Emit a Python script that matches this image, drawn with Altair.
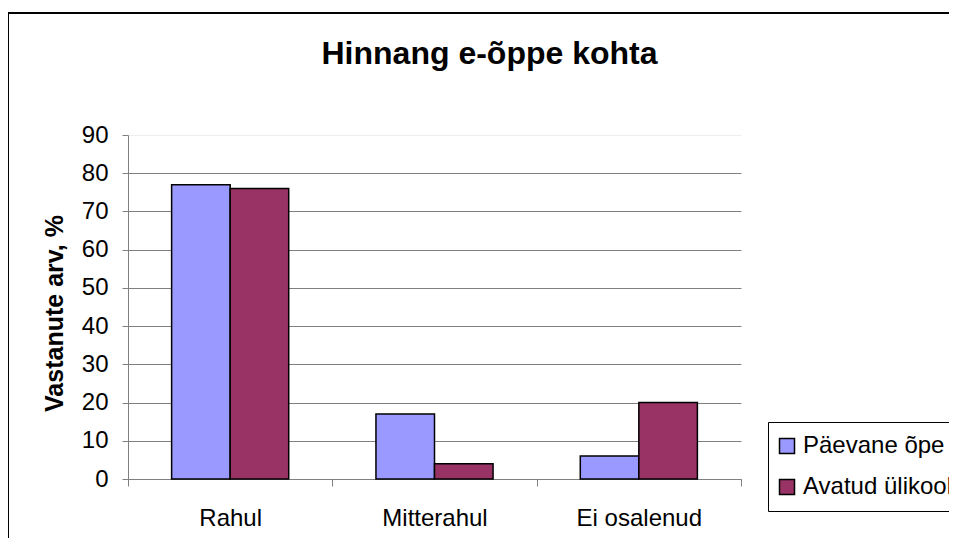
import altair as alt
import pandas as pd

categories = ["Rahul", "Mitterahul", "Ei osalenud"]
series_names = ["Päevane õpe", "Avatud ülikool"]
paevane = [77, 17, 6]
avatud = [76, 4, 20]
y_ticks = [0, 10, 20, 30, 40, 50, 60, 70, 80, 90]
colors = ["#9999FF", "#993366"]

rows = []
for i, c in enumerate(categories):
    rows.append({"kategooria": c, "seeria": series_names[0], "vaartus": paevane[i]})
    rows.append({"kategooria": c, "seeria": series_names[1], "vaartus": avatud[i]})
df = pd.DataFrame(rows)

FONT = "Liberation Sans"

bars = alt.Chart(df).mark_bar(stroke="black", strokeWidth=1.5).encode(
    x=alt.X("kategooria:N", sort=categories,
            scale=alt.Scale(paddingInner=0, paddingOuter=0),
            axis=alt.Axis(title=None, tickBand="extent", labelAngle=0,
                          labelFontSize=24, labelFont=FONT, labelColor="black",
                          labelPadding=20, tickSize=7, tickColor="#808080",
                          domainColor="#808080", grid=False)),
    xOffset=alt.XOffset("seeria:N", sort=series_names,
                        scale=alt.Scale(paddingInner=0, paddingOuter=0.745)),
    y=alt.Y("vaartus:Q",
            scale=alt.Scale(domain=[0, 90], nice=False),
            axis=alt.Axis(title="Vastanute arv, %", values=y_ticks,
                          labelFontSize=24, labelFont=FONT, labelColor="black",
                          labelPadding=14, tickSize=6, tickColor="#808080",
                          domainColor="#808080",
                          grid=True,
                          gridColor={"condition": {"test": "datum.value == 90", "value": "#eeeeee"},
                                     "value": "#808080"},
                          gridWidth=1,
                          titleFont=FONT, titleFontSize=25, titleFontWeight="bold",
                          titleColor="black", titleAngle=-90,
                          titleBaseline="alphabetic", titleAlign="center",
                          titleX=-66, titleY=178)),
    color=alt.Color("seeria:N", sort=series_names,
                    scale=alt.Scale(domain=series_names, range=colors),
                    legend=alt.Legend(title=None, orient="none", legendX=640, legendY=287,
                                      symbolType="square", symbolSize=225,
                                      symbolStrokeColor="black", symbolStrokeWidth=1.5,
                                      labelFontSize=24, labelFont=FONT, labelColor="black",
                                      labelOffset=4, rowPadding=17, padding=12,
                                      symbolOffset=-5,
                                      strokeColor="black", fillColor="white",
                                      labelLimit=400)),
)

border = alt.Chart(alt.Data(values=[{"k": 1}])).mark_rect(
    fill="transparent", stroke="black", strokeWidth=2
).encode(
    x=alt.value(-120), x2=alt.value(900),
    y=alt.value(-122), y2=alt.value(600),
)

chart = alt.layer(border, bars).properties(
    width=613,
    height=344,
    title=alt.TitleParams("Hinnang e-õppe kohta", font=FONT, fontSize=32,
                          fontWeight="bold", color="black", anchor="middle",
                          frame="group", dx=55, baseline="alphabetic", offset=-84),
    autosize=alt.AutoSizeParams(type="none"),
    padding={"left": 120, "top": 127, "right": 208, "bottom": 59},
    background="white",
).configure_view(stroke=None)

chart.save("out.html", embed_options={"renderer": "svg", "actions": False})
